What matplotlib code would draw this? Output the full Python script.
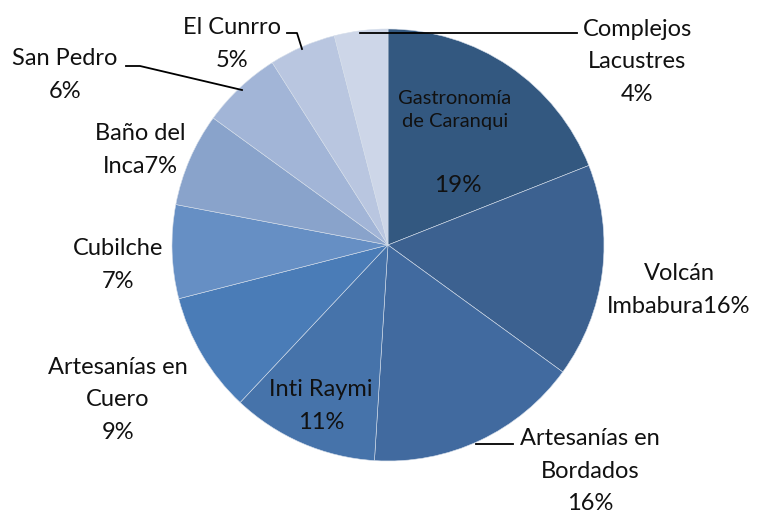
import matplotlib.pyplot as plt

# slice data, clockwise from 12 o'clock
names = ["Gastronomía\nde Caranqui", "Volcán\nImbabura", "Artesanías en\nBordados",
         "Inti Raymi", "Artesanías en\nCuero", "Cubilche", "Baño del\nInca",
         "San Pedro", "El Cunrro", "Complejos\nLacustres"]
values = [19, 16, 16, 11, 9, 7, 7, 6, 5, 4]
seps = ["\n\n", "", "\n", "\n", "\n", "\n", "", "\n", "\n", "\n"]
colors = ["#335880", "#3C6190", "#416A9F", "#4673AA", "#4A7CB7", "#668FC4",
          "#89A3CB", "#A2B5D7", "#B9C6E0", "#CDD6E8"]

W, H = 761, 514
plt.rcParams['font.family'] = ['Lato', 'DejaVu Sans']
fig = plt.figure(figsize=(W / 100, H / 100), dpi=100)
ax = fig.add_axes([0, 0, 1, 1])

cx, cy, r = 388, 245, 216
ax.pie(values, colors=colors, startangle=90, counterclock=False,
       center=(cx, H - cy), radius=r,
       wedgeprops=dict(edgecolor="#D5DEEA", linewidth=0.4))
ax.set_xlim(0, W)
ax.set_ylim(0, H)
ax.set_aspect("equal")
ax.axis("off")

# label centres in pixel coords (x, y from top)
pos = [None, (679, 290), (590, 471), (321, 406), (118, 400), (118, 265),
       (140, 150), (65, 75), (232, 44), (637, 62)]
for name, v, s, p in zip(names, values, seps, pos):
    if p is None:
        continue
    x, y = p
    ax.text(x, H - y, f"{name}{s}{v}%", ha="center", va="center",
            fontsize=17, linespacing=1.68, color="#111111")

# Gastronomía label sits inside its slice, name and value sized differently
ax.text(455, H - 110, names[0], ha="center", va="center", fontsize=14.5,
        linespacing=1.45, color="#111111")
ax.text(458, H - 186, f"{values[0]}%", ha="center", va="center",
        fontsize=17.5, color="#111111")

# leader lines
lk = dict(color="black", lw=1.3)
ax.plot([360, 577], [H - 33, H - 33], **lk)
ax.plot([287, 297, 302], [H - 33, H - 33, H - 49], **lk)
ax.plot([126, 140, 242], [H - 66, H - 66, H - 90], **lk)
ax.plot([476, 513], [H - 444, H - 444], **lk)

fig.savefig("out.png", dpi=100)
